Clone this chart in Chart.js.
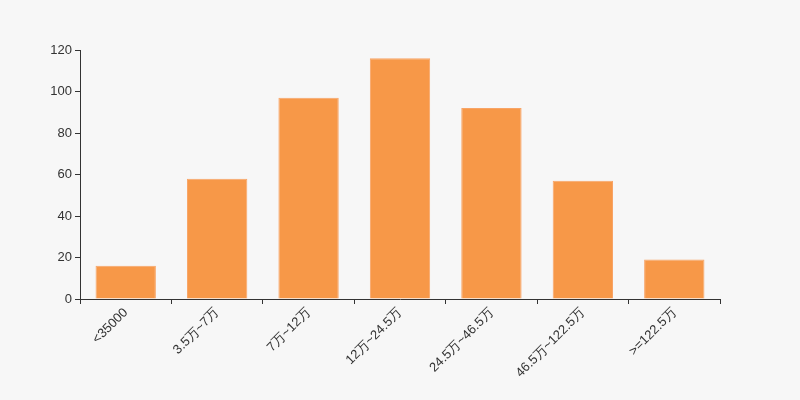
<!DOCTYPE html>
<html>
<head>
<meta charset="utf-8">
<script src="https://cdn.jsdelivr.net/npm/chart.js@4"></script>
<style>
  html, body { margin: 0; padding: 0; background: #f7f7f7; }
  #wrap { width: 800px; height: 400px; }
</style>
</head>
<body>
<div id="wrap"><canvas id="myChart"></canvas></div>
<script>
// Data
const categories = ['<35000', '3.5万~7万', '7万~12万', '12万~24.5万', '24.5万~46.5万', '46.5万~122.5万', '>=122.5万'];
const counts = [16, 58, 97, 116, 92, 57, 19];
const yTicks = [0, 20, 40, 60, 80, 100, 120];

const axisColor = '#333333';
const fontCfg = { family: 'Liberation Sans, Arial, sans-serif', size: 13 };

const ctx = document.getElementById('myChart').getContext('2d');
const myChart = new Chart(ctx, {
    type: 'bar',
    data: {
        labels: categories,
        datasets: [{
            data: counts,
            backgroundColor: '#f79848',
            borderColor: '#f8a466',
            borderWidth: 1,
            barPercentage: 0.66,
            categoryPercentage: 1.0
        }]
    },
    options: {
        responsive: true,
        maintainAspectRatio: false,
        animation: false,
        layout: { padding: { top: 50, right: 80, left: 40, bottom: 0 } },
        plugins: {
            legend: { display: false },
            tooltip: { enabled: false }
        },
        scales: {
            x: {
                offset: true,
                grid: {
                    offset: true,
                    drawOnChartArea: false,
                    drawTicks: true,
                    tickLength: 5,
                    color: axisColor
                },
                border: { color: axisColor, width: 1 },
                ticks: {
                    color: axisColor,
                    font: fontCfg,
                    minRotation: 45,
                    maxRotation: 45,
                    autoSkip: false,
                    padding: 1
                },
                afterFit: function(scale) { scale.height = 101; }
            },
            y: {
                min: 0,
                max: 120,
                afterBuildTicks: function(scale) {
                    scale.ticks = yTicks.map(v => ({ value: v }));
                },
                grid: {
                    drawOnChartArea: false,
                    drawTicks: true,
                    tickLength: 5,
                    color: axisColor
                },
                border: { color: axisColor, width: 1 },
                ticks: {
                    color: axisColor,
                    font: fontCfg,
                    padding: 3
                },
                afterFit: function(scale) { scale.width = 40; }
            }
        }
    }
});
</script>
</body>
</html>
